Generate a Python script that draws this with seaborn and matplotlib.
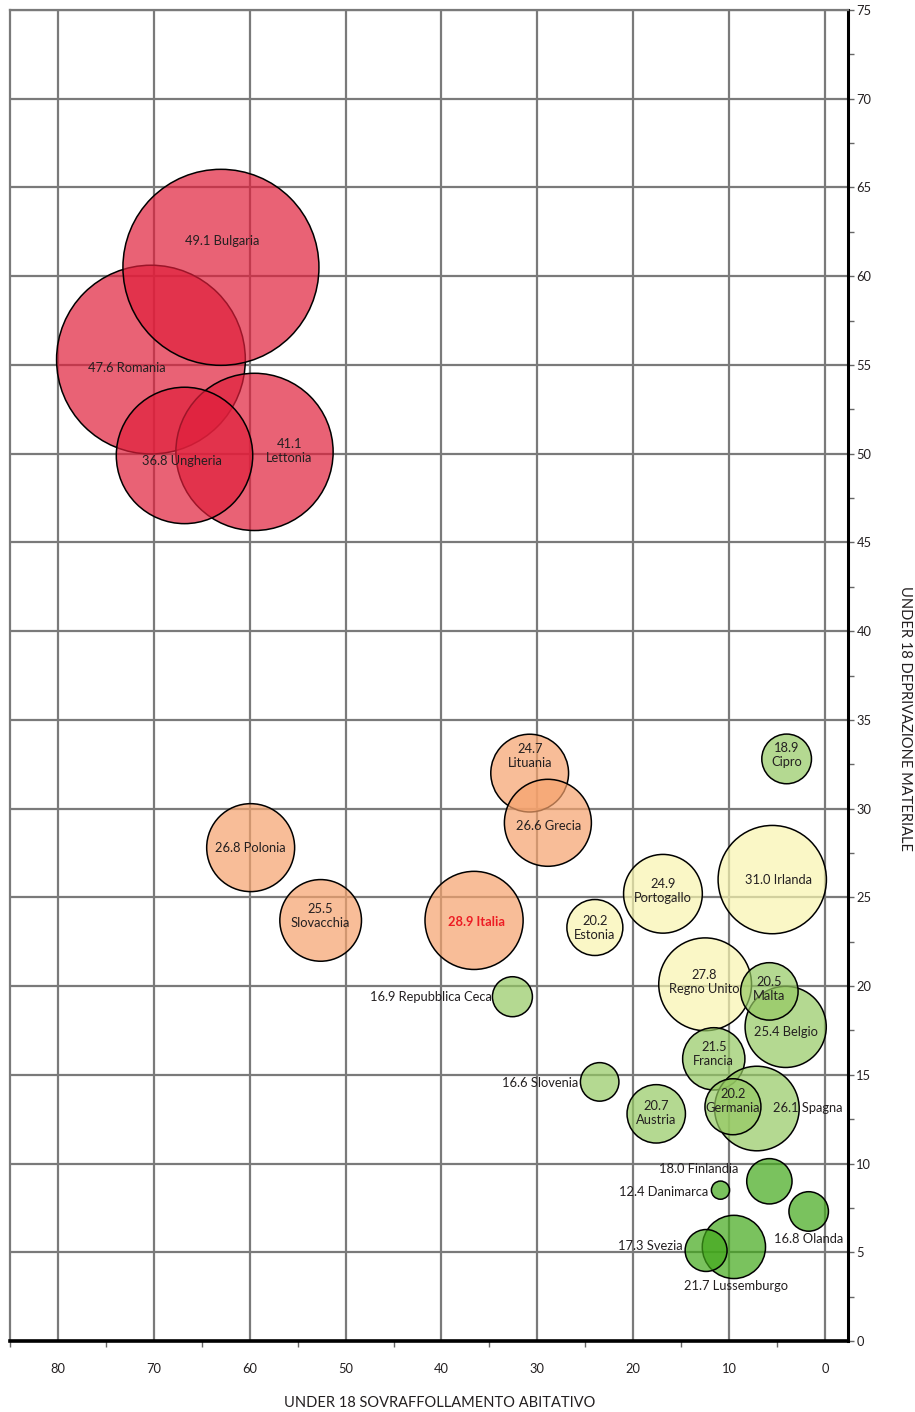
import numpy as np
import pandas as pd
import matplotlib
matplotlib.use("Agg")
import matplotlib.pyplot as plt
import seaborn as sns
from matplotlib.ticker import MultipleLocator

# --- data (drawing order matters: later bubbles sit on top) ---
countries = ["Romania", "Bulgaria", "Lettonia", "Ungheria", "Lituania", "Grecia",
             "Polonia", "Slovacchia", "Italia", "Estonia", "Portogallo", "Irlanda",
             "Cipro", "Regno Unito", "Belgio", "Malta", "Francia", "Spagna",
             "Germania", "Austria", "Slovenia", "Repubblica Ceca", "Finlandia",
             "Danimarca", "Olanda", "Lussemburgo", "Svezia"]
overcrowding = [70.3, 63.0, 59.5, 66.8, 30.8, 28.9, 59.9, 52.6, 36.6, 24.0, 16.9, 5.5,
                4.0, 12.5, 4.1, 5.8, 11.6, 7.1, 9.6, 17.6, 23.5, 32.6, 5.8,
                10.9, 1.7, 9.5, 12.4]
deprivation = [55.3, 60.5, 50.1, 49.9, 32.0, 29.2, 27.8, 23.7, 23.7, 23.3, 25.2, 26.0,
               32.8, 20.1, 17.7, 19.7, 15.9, 13.1, 13.2, 12.8, 14.6, 19.4, 9.0,
               8.5, 7.3, 5.3, 5.1]
poverty = [47.6, 49.1, 41.1, 36.8, 24.7, 26.6, 26.8, 25.5, 28.9, 20.2, 24.9, 31.0,
           18.9, 27.8, 25.4, 20.5, 21.5, 26.1, 20.2, 20.7, 16.6, 16.9, 18.0,
           12.4, 16.8, 21.7, 17.3]
groups = ["rosso"] * 4 + ["arancio"] * 5 + ["giallo"] * 3 + ["verde chiaro"] + ["giallo"] \
    + ["verde chiaro"] * 8 + ["verde scuro"] * 5

palette = {"rosso": "#E01F3B", "arancio": "#F6A26C", "giallo": "#F8F5AE",
           "verde chiaro": "#95C962", "verde scuro": "#42A81A"}

# label placement: (dx px, dy px, ha, two lines?)
label_layout = {
    "Bulgaria": (1, 26, "center", False), "Romania": (-24, -8, "center", False),
    "Ungheria": (-3, -6, "center", False), "Lettonia": (35, 1, "center", True),
    "Lituania": (0, 17, "center", True), "Grecia": (1, -3, "center", False),
    "Polonia": (0, 0, "center", False), "Slovacchia": (0, 4, "center", True),
    "Italia": (2, -2, "center", False), "Estonia": (0, 0, "center", True),
    "Portogallo": (0, 3, "center", True), "Irlanda": (6, 0, "center", False),
    "Cipro": (0, 4, "center", True), "Repubblica Ceca": (-21, 0, "right", False),
    "Regno Unito": (-1, 2, "center", True), "Malta": (0, 2, "center", True),
    "Belgio": (0, -5, "center", False), "Francia": (0, 5, "center", True),
    "Slovenia": (-21, -1, "right", False), "Austria": (0, 1, "center", True),
    "Germania": (0, 6, "center", True), "Spagna": (16, 1, "left", False),
    "Finlandia": (-31, 12, "right", False), "Danimarca": (-12, -2, "right", False),
    "Olanda": (0, -28, "center", False), "Svezia": (-23, 4, "right", False),
    "Lussemburgo": (2, -39, "center", False),
}

df = pd.DataFrame({"paese": countries, "sovraffollamento": overcrowding,
                   "deprivazione": deprivation, "valore": poverty, "gruppo": groups})

DPI = 100
# bubble radius in pixels grows linearly with the value
radius_px = 2.423 * (df["valore"] - 8.65)
df["area"] = (2 * radius_px * 72 / DPI) ** 2
amin, amax = df["area"].min(), df["area"].max()

sns.set_style("white")
plt.rcParams["font.family"] = ["Lato", "DejaVu Sans"]
text_col = "#231F20"

fig = plt.figure(figsize=(9.15, 14.12), dpi=DPI)
ax = fig.add_axes([10 / 915, 71 / 1412, 838 / 915, 1331 / 1412])

sns.scatterplot(data=df, x="sovraffollamento", y="deprivazione", hue="gruppo",
                palette=palette, size="area", sizes=(amin, amax), size_norm=(amin, amax),
                legend=False, edgecolor="black", linewidth=1.1, ax=ax, zorder=3)

# semi-transparent fills, solid edges
coll = ax.collections[0]
fc = coll.get_facecolors().copy()
fc[:, 3] = 0.7
coll.set_facecolors(fc)
coll.set_edgecolors([(0, 0, 0, 1)])

for _, row in df.iterrows():
    dx, dy, ha, two = label_layout[row["paese"]]
    txt = f"{row['valore']:.1f}\n{row['paese']}" if two else f"{row['valore']:.1f} {row['paese']}"
    is_it = row["paese"] == "Italia"
    ax.annotate(txt, (row["sovraffollamento"], row["deprivazione"]),
                xytext=(dx, dy), textcoords="offset pixels", ha=ha, va="center",
                fontsize=9.3, linespacing=1.2, zorder=5,
                color="#ED1C24" if is_it else text_col,
                fontweight="bold" if is_it else "normal")

ax.set_xlim(85, -2.4)
ax.set_ylim(0, 75)
ax.xaxis.set_major_locator(MultipleLocator(10))
ax.xaxis.set_minor_locator(MultipleLocator(5))
ax.yaxis.set_major_locator(MultipleLocator(5))
ax.yaxis.set_minor_locator(MultipleLocator(2.5))
ax.yaxis.tick_right()
ax.set_xticks(range(0, 81, 10))
ax.set_xlabel("")
ax.set_ylabel("")

ax.grid(True, which="major", color="#7A7A7A", linewidth=1.6, zorder=0)
ax.set_axisbelow(True)

ax.tick_params(axis="x", which="major", length=0, pad=16, labelsize=9.3, labelcolor=text_col)
ax.tick_params(axis="x", which="minor", length=4, width=1, color="#666666", direction="out", bottom=True)
ax.tick_params(axis="y", which="both", length=4, width=1, color="#666666", direction="out",
               right=True, left=False)
ax.tick_params(axis="y", which="major", labelsize=9.3, pad=2, labelcolor=text_col)

for side in ["top", "left"]:
    ax.spines[side].set_color("#7A7A7A")
    ax.spines[side].set_linewidth(1.6)
ax.spines["right"].set_color("black")
ax.spines["right"].set_linewidth(2.2)
ax.spines["bottom"].set_color("black")
ax.spines["bottom"].set_linewidth(2.6)

fig.text(440 / 915, 1 - 1403 / 1412, "UNDER 18 SOVRAFFOLLAMENTO ABITATIVO",
         ha="center", va="center", fontsize=10.5, color=text_col)
fig.text(905 / 915, 1 - 719 / 1412, "UNDER 18 DEPRIVAZIONE MATERIALE",
         ha="center", va="center", rotation=-90, fontsize=10.5, color=text_col)

fig.savefig("out.png", dpi=DPI)
